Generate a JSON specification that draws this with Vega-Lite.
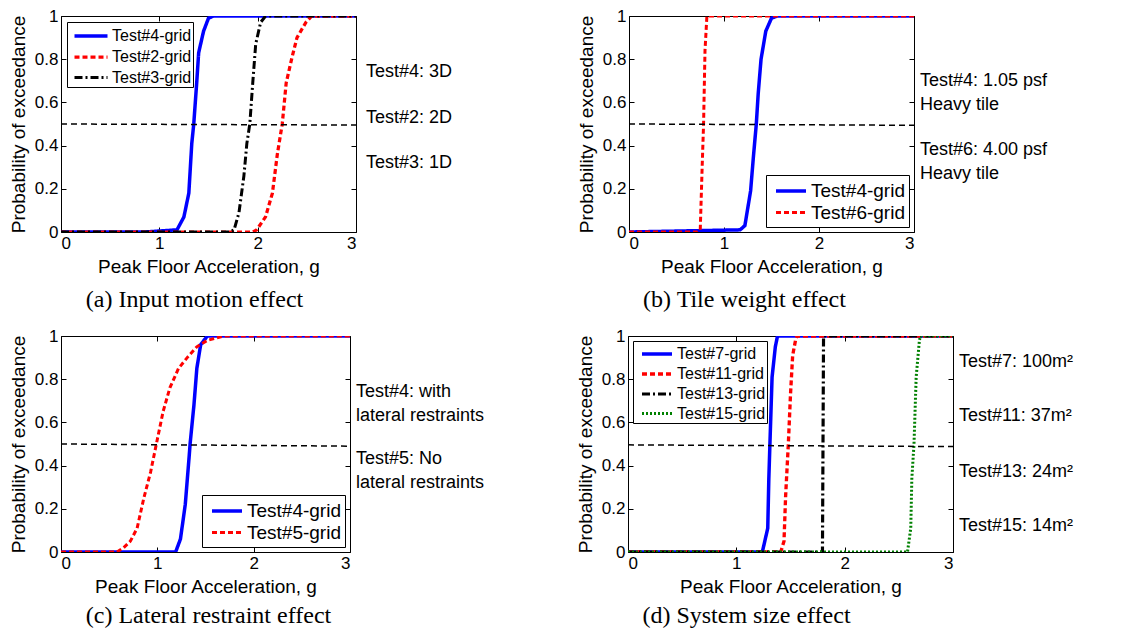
{
  "$schema": "https://vega.github.io/schema/vega-lite/v6.json",
  "background": "white",
  "padding": {"left": 8, "top": 6, "right": 5, "bottom": 5},
  "datasets": {
    "a": [
      {"s": "Test#4-grid", "x": 0, "y": 0}, {"s": "Test#4-grid", "x": 0.85, "y": 0}, {"s": "Test#4-grid", "x": 1.18, "y": 0.01}, {"s": "Test#4-grid", "x": 1.25, "y": 0.07}, {"s": "Test#4-grid", "x": 1.3, "y": 0.18}, {"s": "Test#4-grid", "x": 1.33, "y": 0.41}, {"s": "Test#4-grid", "x": 1.35, "y": 0.5}, {"s": "Test#4-grid", "x": 1.38, "y": 0.69}, {"s": "Test#4-grid", "x": 1.4, "y": 0.83}, {"s": "Test#4-grid", "x": 1.45, "y": 0.93}, {"s": "Test#4-grid", "x": 1.5, "y": 0.99}, {"s": "Test#4-grid", "x": 1.55, "y": 1}, {"s": "Test#4-grid", "x": 3, "y": 1},
      {"s": "Test#2-grid", "x": 0, "y": 0}, {"s": "Test#2-grid", "x": 1.95, "y": 0}, {"s": "Test#2-grid", "x": 1.99, "y": 0.01}, {"s": "Test#2-grid", "x": 2.08, "y": 0.07}, {"s": "Test#2-grid", "x": 2.15, "y": 0.18}, {"s": "Test#2-grid", "x": 2.2, "y": 0.36}, {"s": "Test#2-grid", "x": 2.25, "y": 0.5}, {"s": "Test#2-grid", "x": 2.29, "y": 0.69}, {"s": "Test#2-grid", "x": 2.35, "y": 0.81}, {"s": "Test#2-grid", "x": 2.4, "y": 0.9}, {"s": "Test#2-grid", "x": 2.49, "y": 0.97}, {"s": "Test#2-grid", "x": 2.55, "y": 1}, {"s": "Test#2-grid", "x": 3, "y": 1},
      {"s": "Test#3-grid", "x": 0, "y": 0}, {"s": "Test#3-grid", "x": 1.72, "y": 0}, {"s": "Test#3-grid", "x": 1.76, "y": 0.01}, {"s": "Test#3-grid", "x": 1.81, "y": 0.09}, {"s": "Test#3-grid", "x": 1.86, "y": 0.26}, {"s": "Test#3-grid", "x": 1.89, "y": 0.41}, {"s": "Test#3-grid", "x": 1.92, "y": 0.5}, {"s": "Test#3-grid", "x": 1.95, "y": 0.69}, {"s": "Test#3-grid", "x": 1.98, "y": 0.87}, {"s": "Test#3-grid", "x": 2.03, "y": 0.97}, {"s": "Test#3-grid", "x": 2.08, "y": 1}, {"s": "Test#3-grid", "x": 3, "y": 1}
    ],
    "b": [
      {"s": "Test#4-grid", "x": 0, "y": 0}, {"s": "Test#4-grid", "x": 1.17, "y": 0.01}, {"s": "Test#4-grid", "x": 1.22, "y": 0.03}, {"s": "Test#4-grid", "x": 1.28, "y": 0.19}, {"s": "Test#4-grid", "x": 1.31, "y": 0.35}, {"s": "Test#4-grid", "x": 1.34, "y": 0.5}, {"s": "Test#4-grid", "x": 1.36, "y": 0.64}, {"s": "Test#4-grid", "x": 1.39, "y": 0.8}, {"s": "Test#4-grid", "x": 1.44, "y": 0.93}, {"s": "Test#4-grid", "x": 1.5, "y": 0.99}, {"s": "Test#4-grid", "x": 1.56, "y": 1}, {"s": "Test#4-grid", "x": 3, "y": 1},
      {"s": "Test#6-grid", "x": 0, "y": 0}, {"s": "Test#6-grid", "x": 0.715, "y": 0}, {"s": "Test#6-grid", "x": 0.75, "y": 0.01}, {"s": "Test#6-grid", "x": 0.77, "y": 0.3}, {"s": "Test#6-grid", "x": 0.785, "y": 0.5}, {"s": "Test#6-grid", "x": 0.8, "y": 0.84}, {"s": "Test#6-grid", "x": 0.82, "y": 1}, {"s": "Test#6-grid", "x": 3, "y": 1}
    ],
    "c": [
      {"s": "Test#4-grid", "x": 0, "y": 0}, {"s": "Test#4-grid", "x": 1.19, "y": 0}, {"s": "Test#4-grid", "x": 1.24, "y": 0.06}, {"s": "Test#4-grid", "x": 1.29, "y": 0.22}, {"s": "Test#4-grid", "x": 1.33, "y": 0.44}, {"s": "Test#4-grid", "x": 1.34, "y": 0.5}, {"s": "Test#4-grid", "x": 1.38, "y": 0.68}, {"s": "Test#4-grid", "x": 1.41, "y": 0.85}, {"s": "Test#4-grid", "x": 1.45, "y": 0.96}, {"s": "Test#4-grid", "x": 1.52, "y": 1}, {"s": "Test#4-grid", "x": 3, "y": 1},
      {"s": "Test#5-grid", "x": 0, "y": 0}, {"s": "Test#5-grid", "x": 0.58, "y": 0}, {"s": "Test#5-grid", "x": 0.65, "y": 0.02}, {"s": "Test#5-grid", "x": 0.72, "y": 0.05}, {"s": "Test#5-grid", "x": 0.79, "y": 0.11}, {"s": "Test#5-grid", "x": 0.86, "y": 0.25}, {"s": "Test#5-grid", "x": 0.93, "y": 0.37}, {"s": "Test#5-grid", "x": 0.99, "y": 0.5}, {"s": "Test#5-grid", "x": 1.06, "y": 0.65}, {"s": "Test#5-grid", "x": 1.13, "y": 0.76}, {"s": "Test#5-grid", "x": 1.22, "y": 0.85}, {"s": "Test#5-grid", "x": 1.31, "y": 0.9}, {"s": "Test#5-grid", "x": 1.41, "y": 0.95}, {"s": "Test#5-grid", "x": 1.52, "y": 0.98}, {"s": "Test#5-grid", "x": 1.69, "y": 1}, {"s": "Test#5-grid", "x": 3, "y": 1}
    ],
    "d": [
      {"s": "Test#7-grid", "x": 0, "y": 0}, {"s": "Test#7-grid", "x": 1.24, "y": 0}, {"s": "Test#7-grid", "x": 1.29, "y": 0.11}, {"s": "Test#7-grid", "x": 1.3, "y": 0.34}, {"s": "Test#7-grid", "x": 1.31, "y": 0.5}, {"s": "Test#7-grid", "x": 1.33, "y": 0.81}, {"s": "Test#7-grid", "x": 1.36, "y": 0.95}, {"s": "Test#7-grid", "x": 1.38, "y": 1}, {"s": "Test#7-grid", "x": 3, "y": 1},
      {"s": "Test#11-grid", "x": 0, "y": 0}, {"s": "Test#11-grid", "x": 1.41, "y": 0}, {"s": "Test#11-grid", "x": 1.44, "y": 0.05}, {"s": "Test#11-grid", "x": 1.455, "y": 0.26}, {"s": "Test#11-grid", "x": 1.48, "y": 0.5}, {"s": "Test#11-grid", "x": 1.5, "y": 0.73}, {"s": "Test#11-grid", "x": 1.52, "y": 0.91}, {"s": "Test#11-grid", "x": 1.55, "y": 0.99}, {"s": "Test#11-grid", "x": 1.56, "y": 1}, {"s": "Test#11-grid", "x": 3, "y": 1},
      {"s": "Test#13-grid", "x": 0, "y": 0}, {"s": "Test#13-grid", "x": 1.795, "y": 0}, {"s": "Test#13-grid", "x": 1.8, "y": 0.5}, {"s": "Test#13-grid", "x": 1.805, "y": 1}, {"s": "Test#13-grid", "x": 3, "y": 1},
      {"s": "Test#15-grid", "x": 0, "y": 0}, {"s": "Test#15-grid", "x": 2.58, "y": 0}, {"s": "Test#15-grid", "x": 2.61, "y": 0.11}, {"s": "Test#15-grid", "x": 2.62, "y": 0.34}, {"s": "Test#15-grid", "x": 2.64, "y": 0.5}, {"s": "Test#15-grid", "x": 2.66, "y": 0.81}, {"s": "Test#15-grid", "x": 2.69, "y": 0.98}, {"s": "Test#15-grid", "x": 2.7, "y": 1}, {"s": "Test#15-grid", "x": 3, "y": 1}
    ],
    "half_a": [{"x": 0, "y": 0.5}, {"x": 3, "y": 0.495}],
    "half_b": [{"x": 0, "y": 0.5}, {"x": 3, "y": 0.494}],
    "half_c": [{"x": 0, "y": 0.5}, {"x": 3, "y": 0.49}],
    "half_d": [{"x": 0, "y": 0.496}, {"x": 3, "y": 0.488}],
    "ann_a": [{"x": 3, "y": 0.74, "t": "Test#4: 3D"}, {"x": 3, "y": 0.53, "t": "Test#2: 2D"}, {"x": 3, "y": 0.32, "t": "Test#3: 1D"}],
    "ann_b": [{"x": 3, "y": 0.70, "t": "Test#4: 1.05 psf"}, {"x": 3, "y": 0.59, "t": "Heavy tile"}, {"x": 3, "y": 0.38, "t": "Test#6: 4.00 psf"}, {"x": 3, "y": 0.27, "t": "Heavy tile"}],
    "ann_c": [{"x": 3, "y": 0.74, "t": "Test#4: with"}, {"x": 3, "y": 0.63, "t": "lateral restraints"}, {"x": 3, "y": 0.43, "t": "Test#5: No"}, {"x": 3, "y": 0.32, "t": "lateral restraints"}],
    "ann_d": [{"x": 3, "y": 0.88, "t": "Test#7: 100m²"}, {"x": 3, "y": 0.63, "t": "Test#11: 37m²"}, {"x": 3, "y": 0.37, "t": "Test#13: 24m²"}, {"x": 3, "y": 0.12, "t": "Test#15: 14m²"}]
  },
  "config": {
    "font": "Liberation Sans",
    "view": {"stroke": "black", "strokeWidth": 1},
    "axis": {"grid": false, "domain": false, "tickColor": "black", "tickSize": -5, "labelPadding": 8, "labelColor": "black", "labelFontSize": 17, "titleColor": "black", "titleFontSize": 19, "titleFontWeight": "normal", "labelFont": "Liberation Sans", "titleFont": "Liberation Sans"},
    "axisY": {"titlePadding": 6},
    "axisX": {"titlePadding": 6},
    "legend": {"symbolType": "M-1.5,0H1.5", "strokeColor": "black", "fillColor": "white", "cornerRadius": 0, "labelColor": "black", "labelFont": "Liberation Sans"},
    "title": {"font": "Liberation Serif", "fontSize": 24, "fontWeight": "normal", "color": "black", "orient": "bottom", "offset": 12},
    "text": {"font": "Liberation Sans", "fontSize": 18, "color": "black"},
    "concat": {"spacing": 13}
  },
  "resolve": {"scale": {"color": "independent", "strokeDash": "independent", "strokeWidth": "independent"}, "legend": {"color": "independent", "strokeDash": "independent", "strokeWidth": "independent"}},
  "vconcat": [
    {
      "spacing": 123,
      "resolve": {"scale": {"color": "independent", "strokeDash": "independent", "strokeWidth": "independent"}, "legend": {"color": "independent", "strokeDash": "independent", "strokeWidth": "independent"}},
      "hconcat": [
        {
          "width": 295, "height": 216,
          "title": {"text": "(a) Input motion effect", "dx": -14},
          "resolve": {"axis": {"x": "independent", "y": "independent"}},
          "layer": [
            {"data": {"name": "a"}, "mark": {"type": "line", "clip": true},
             "encoding": {
               "x": {"field": "x", "type": "quantitative", "scale": {"domain": [0, 3], "nice": false}, "axis": {"title": "Peak Floor Acceleration, g", "values": [0, 1, 2, 3], "format": "d"}},
               "y": {"field": "y", "type": "quantitative", "scale": {"domain": [0, 1], "nice": false}, "axis": {"title": "Probability of exceedance", "values": [0, 0.2, 0.4, 0.6, 0.8, 1], "format": ".1~f"}},
               "color": {"field": "s", "type": "nominal", "scale": {"domain": ["Test#4-grid", "Test#2-grid", "Test#3-grid"], "range": ["#0000ff", "#ff0000", "#000000"]}, "legend": {"orient": "top-left", "title": null, "offset": 6, "symbolSize": 484, "padding": 1, "rowPadding": -2, "symbolOffset": 10, "labelOffset": 8, "labelFontSize": 16}},
               "strokeDash": {"field": "s", "type": "nominal", "scale": {"domain": ["Test#4-grid", "Test#2-grid", "Test#3-grid"], "range": [[1, 0], [5, 3], [8, 3, 2, 3]]}, "legend": {"orient": "top-left", "title": null, "offset": 6, "symbolSize": 484, "padding": 1, "rowPadding": -2, "symbolOffset": 10, "labelOffset": 8, "labelFontSize": 16}},
               "strokeWidth": {"field": "s", "type": "nominal", "scale": {"domain": ["Test#4-grid", "Test#2-grid", "Test#3-grid"], "range": [3.5, 3, 2]}, "legend": {"orient": "top-left", "title": null, "offset": 6, "symbolSize": 484, "padding": 1, "rowPadding": -2, "symbolOffset": 10, "labelOffset": 8, "labelFontSize": 16}}
             }},
            {"data": {"name": "half_a"}, "mark": {"type": "line", "color": "black", "strokeDash": [6, 4], "strokeWidth": 1.5},
             "encoding": {
               "x": {"field": "x", "type": "quantitative", "axis": {"orient": "top", "labels": false, "title": null, "values": [0, 1, 2, 3]}},
               "y": {"field": "y", "type": "quantitative", "axis": {"orient": "right", "labels": false, "title": null, "values": [0, 0.2, 0.4, 0.6, 0.8, 1]}}
             }},
            {"data": {"name": "ann_a"}, "mark": {"type": "text", "align": "left", "baseline": "middle", "dx": 10},
             "encoding": {"x": {"field": "x", "type": "quantitative", "axis": null}, "y": {"field": "y", "type": "quantitative", "axis": null}, "text": {"field": "t"}}}
          ]
        },
        {
          "width": 285, "height": 216,
          "title": {"text": "(b) Tile weight effect", "dx": -27},
          "resolve": {"axis": {"x": "independent", "y": "independent"}},
          "layer": [
            {"data": {"name": "b"}, "mark": {"type": "line", "clip": true},
             "encoding": {
               "x": {"field": "x", "type": "quantitative", "scale": {"domain": [0, 3], "nice": false}, "axis": {"title": "Peak Floor Acceleration, g", "values": [0, 1, 2, 3], "format": "d"}},
               "y": {"field": "y", "type": "quantitative", "scale": {"domain": [0, 1], "nice": false}, "axis": {"title": "Probability of exceedance", "values": [0, 0.2, 0.4, 0.6, 0.8, 1], "format": ".1~f"}},
               "color": {"field": "s", "type": "nominal", "scale": {"domain": ["Test#4-grid", "Test#6-grid"], "range": ["#0000ff", "#ff0000"]}, "legend": {"orient": "bottom-right", "title": null, "labelFontSize": 19, "offset": 5, "symbolSize": 400, "padding": 4, "rowPadding": 0, "symbolOffset": 9, "labelOffset": 8}},
               "strokeDash": {"field": "s", "type": "nominal", "scale": {"domain": ["Test#4-grid", "Test#6-grid"], "range": [[1, 0], [5, 3]]}, "legend": {"orient": "bottom-right", "title": null, "labelFontSize": 19, "offset": 5, "symbolSize": 400, "padding": 4, "rowPadding": 0, "symbolOffset": 9, "labelOffset": 8}},
               "strokeWidth": {"field": "s", "type": "nominal", "scale": {"domain": ["Test#4-grid", "Test#6-grid"], "range": [3.5, 3]}, "legend": {"orient": "bottom-right", "title": null, "labelFontSize": 19, "offset": 5, "symbolSize": 400, "padding": 4, "rowPadding": 0, "symbolOffset": 9, "labelOffset": 8}}
             }},
            {"data": {"name": "half_b"}, "mark": {"type": "line", "color": "black", "strokeDash": [6, 4], "strokeWidth": 1.5},
             "encoding": {
               "x": {"field": "x", "type": "quantitative", "axis": {"orient": "top", "labels": false, "title": null, "values": [0, 1, 2, 3]}},
               "y": {"field": "y", "type": "quantitative", "axis": {"orient": "right", "labels": false, "title": null, "values": [0, 0.2, 0.4, 0.6, 0.8, 1]}}
             }},
            {"data": {"name": "ann_b"}, "mark": {"type": "text", "align": "left", "baseline": "middle", "dx": 6},
             "encoding": {"x": {"field": "x", "type": "quantitative", "axis": null}, "y": {"field": "y", "type": "quantitative", "axis": null}, "text": {"field": "t"}}}
          ]
        }
      ]
    },
    {
      "spacing": 90,
      "resolve": {"scale": {"color": "independent", "strokeDash": "independent", "strokeWidth": "independent"}, "legend": {"color": "independent", "strokeDash": "independent", "strokeWidth": "independent"}},
      "hconcat": [
        {
          "width": 289, "height": 216,
          "title": {"text": "(c) Lateral restraint effect", "dx": 3, "offset": 8},
          "resolve": {"axis": {"x": "independent", "y": "independent"}},
          "layer": [
            {"data": {"name": "c"}, "mark": {"type": "line", "clip": true},
             "encoding": {
               "x": {"field": "x", "type": "quantitative", "scale": {"domain": [0, 3], "nice": false}, "axis": {"title": "Peak Floor Acceleration, g", "values": [0, 1, 2, 3], "format": "d"}},
               "y": {"field": "y", "type": "quantitative", "scale": {"domain": [0, 1], "nice": false}, "axis": {"title": "Probability of exceedance", "values": [0, 0.2, 0.4, 0.6, 0.8, 1], "format": ".1~f"}},
               "color": {"field": "s", "type": "nominal", "scale": {"domain": ["Test#4-grid", "Test#5-grid"], "range": ["#0000ff", "#ff0000"]}, "legend": {"orient": "bottom-right", "title": null, "labelFontSize": 19, "offset": 5, "symbolSize": 400, "padding": 4, "rowPadding": 0, "symbolOffset": 9, "labelOffset": 8}},
               "strokeDash": {"field": "s", "type": "nominal", "scale": {"domain": ["Test#4-grid", "Test#5-grid"], "range": [[1, 0], [5, 3]]}, "legend": {"orient": "bottom-right", "title": null, "labelFontSize": 19, "offset": 5, "symbolSize": 400, "padding": 4, "rowPadding": 0, "symbolOffset": 9, "labelOffset": 8}},
               "strokeWidth": {"field": "s", "type": "nominal", "scale": {"domain": ["Test#4-grid", "Test#5-grid"], "range": [3.5, 3]}, "legend": {"orient": "bottom-right", "title": null, "labelFontSize": 19, "offset": 5, "symbolSize": 400, "padding": 4, "rowPadding": 0, "symbolOffset": 9, "labelOffset": 8}}
             }},
            {"data": {"name": "half_c"}, "mark": {"type": "line", "color": "black", "strokeDash": [6, 4], "strokeWidth": 1.5},
             "encoding": {
               "x": {"field": "x", "type": "quantitative", "axis": {"orient": "top", "labels": false, "title": null, "values": [0, 1, 2, 3]}},
               "y": {"field": "y", "type": "quantitative", "axis": {"orient": "right", "labels": false, "title": null, "values": [0, 0.2, 0.4, 0.6, 0.8, 1]}}
             }},
            {"data": {"name": "ann_c"}, "mark": {"type": "text", "align": "left", "baseline": "middle", "dx": 6},
             "encoding": {"x": {"field": "x", "type": "quantitative", "axis": null}, "y": {"field": "y", "type": "quantitative", "axis": null}, "text": {"field": "t"}}}
          ]
        },
        {
          "width": 325, "height": 216,
          "title": {"text": "(d) System size effect", "dx": -44, "offset": 8},
          "resolve": {"axis": {"x": "independent", "y": "independent"}},
          "layer": [
            {"data": {"name": "d"}, "mark": {"type": "line", "clip": true},
             "encoding": {
               "x": {"field": "x", "type": "quantitative", "scale": {"domain": [0, 3], "nice": false}, "axis": {"title": "Peak Floor Acceleration, g", "values": [0, 1, 2, 3], "format": "d"}},
               "y": {"field": "y", "type": "quantitative", "scale": {"domain": [0, 1], "nice": false}, "axis": {"title": "Probability of exceedance", "values": [0, 0.2, 0.4, 0.6, 0.8, 1], "format": ".1~f"}},
               "color": {"field": "s", "type": "nominal", "scale": {"domain": ["Test#7-grid", "Test#11-grid", "Test#13-grid", "Test#15-grid"], "range": ["#0000ff", "#ff0000", "#000000", "#008000"]}, "legend": {"orient": "top-left", "title": null, "offset": 5, "symbolSize": 400, "padding": 1, "rowPadding": 0, "symbolOffset": 11, "labelOffset": 8, "labelFontSize": 16}},
               "strokeDash": {"field": "s", "type": "nominal", "scale": {"domain": ["Test#7-grid", "Test#11-grid", "Test#13-grid", "Test#15-grid"], "range": [[1, 0], [5, 3], [8, 3, 2, 3], [2, 2]]}, "legend": {"orient": "top-left", "title": null, "offset": 5, "symbolSize": 400, "padding": 1, "rowPadding": 0, "symbolOffset": 11, "labelOffset": 8, "labelFontSize": 16}},
               "strokeWidth": {"field": "s", "type": "nominal", "scale": {"domain": ["Test#7-grid", "Test#11-grid", "Test#13-grid", "Test#15-grid"], "range": [3.5, 3, 2, 2]}, "legend": {"orient": "top-left", "title": null, "offset": 5, "symbolSize": 400, "padding": 1, "rowPadding": 0, "symbolOffset": 11, "labelOffset": 8, "labelFontSize": 16}}
             }},
            {"data": {"name": "half_d"}, "mark": {"type": "line", "color": "black", "strokeDash": [6, 4], "strokeWidth": 1.5},
             "encoding": {
               "x": {"field": "x", "type": "quantitative", "axis": {"orient": "top", "labels": false, "title": null, "values": [0, 1, 2, 3]}},
               "y": {"field": "y", "type": "quantitative", "axis": {"orient": "right", "labels": false, "title": null, "values": [0, 0.2, 0.4, 0.6, 0.8, 1]}}
             }},
            {"data": {"name": "ann_d"}, "mark": {"type": "text", "align": "left", "baseline": "middle", "dx": 6},
             "encoding": {"x": {"field": "x", "type": "quantitative", "axis": null}, "y": {"field": "y", "type": "quantitative", "axis": null}, "text": {"field": "t"}}}
          ]
        }
      ]
    }
  ]
}
